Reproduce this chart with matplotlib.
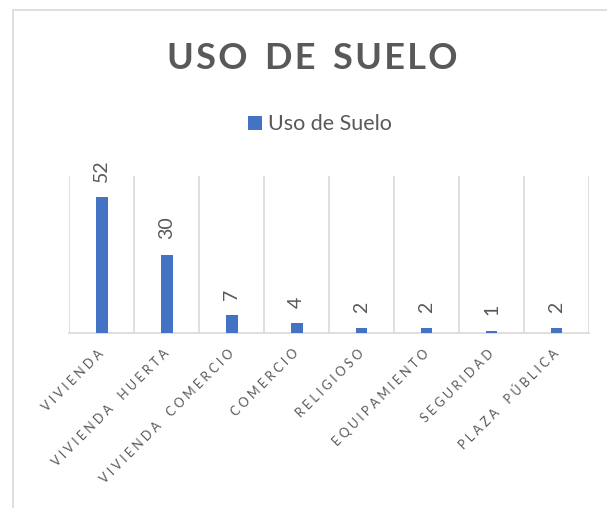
import matplotlib.pyplot as plt
from matplotlib.patches import Rectangle

# datos
categorias = ["VIVIENDA", "VIVIENDA HUERTA", "VIVIENDA COMERCIO", "COMERCIO",
              "RELIGIOSO", "EQUIPAMIENTO", "SEGURIDAD", "PLAZA PÚBLICA"]
valores = [52, 30, 7, 4, 2, 2, 1, 2]
serie = "Uso de Suelo"
titulo = "USO DE SUELO"

AZUL = "#4472C4"
GRIS = "#595959"
LINEA = "#d9d9d9"
FUENTE = ["Lato", "DejaVu Sans"]

plt.rcParams["font.family"] = FUENTE


def espaciar(texto, sep, sep_palabra):
    # imita el espaciado entre caracteres de Excel
    return sep_palabra.join(sep.join(p) for p in texto.split(" "))


W, H = 607, 508
fig = plt.figure(figsize=(W / 100, H / 100), dpi=100)

# marco del grafico (sale por la derecha y por abajo)
fig.patches.append(Rectangle((13 / W, -0.1), 1.2, 1 - 10 / H + 0.1,
                             transform=fig.transFigure, fill=False,
                             edgecolor=LINEA, linewidth=1.2))

ax = fig.add_axes([69.3 / W, 1 - 333.3 / H, (589 - 69.3) / W, (333.3 - 176) / H])

x = range(len(valores))
barras = ax.bar(x, valores, width=0.18, color=AZUL, label=serie, zorder=3)

ax.set_xlim(-0.5, len(valores) - 0.5)
ax.set_ylim(0, 60)
ax.set_yticks([])

# lineas verticales entre categorias
for i in range(len(valores) + 1):
    ax.axvline(i - 0.5, color=LINEA, linewidth=1.2, zorder=1)

for s in ["top", "right", "left"]:
    ax.spines[s].set_visible(False)
ax.spines["bottom"].set_color(LINEA)
ax.spines["bottom"].set_linewidth(1.2)

ax.set_xticks(list(x))
ax.set_xticklabels([espaciar(c, " ", "    ") for c in categorias], rotation=45,
                   ha="right", va="center", rotation_mode="anchor",
                   fontsize=9, color=GRIS)
ax.tick_params(axis="x", length=0, pad=13)

for b, v in zip(barras, valores):
    ax.annotate(str(v), (b.get_x() + b.get_width() / 2, v),
                xytext=(0, 11), textcoords="offset points",
                rotation=90, ha="center", va="bottom",
                fontsize=14, color=GRIS)

fig.text(312 / W, 1 - 69 / H, espaciar(titulo, "\u200a", "  "),
         ha="center", va="baseline", fontsize=26, fontweight="bold", color=GRIS)

fig.legend(handles=[barras], labels=[serie], loc="center",
           bbox_to_anchor=(320 / W, 1 - 124.5 / H), frameon=False,
           fontsize=15.5, labelcolor=GRIS, handlelength=0.65, handleheight=0.65,
           handletextpad=0.3)

fig.savefig("out.png", dpi=100, facecolor="white")
